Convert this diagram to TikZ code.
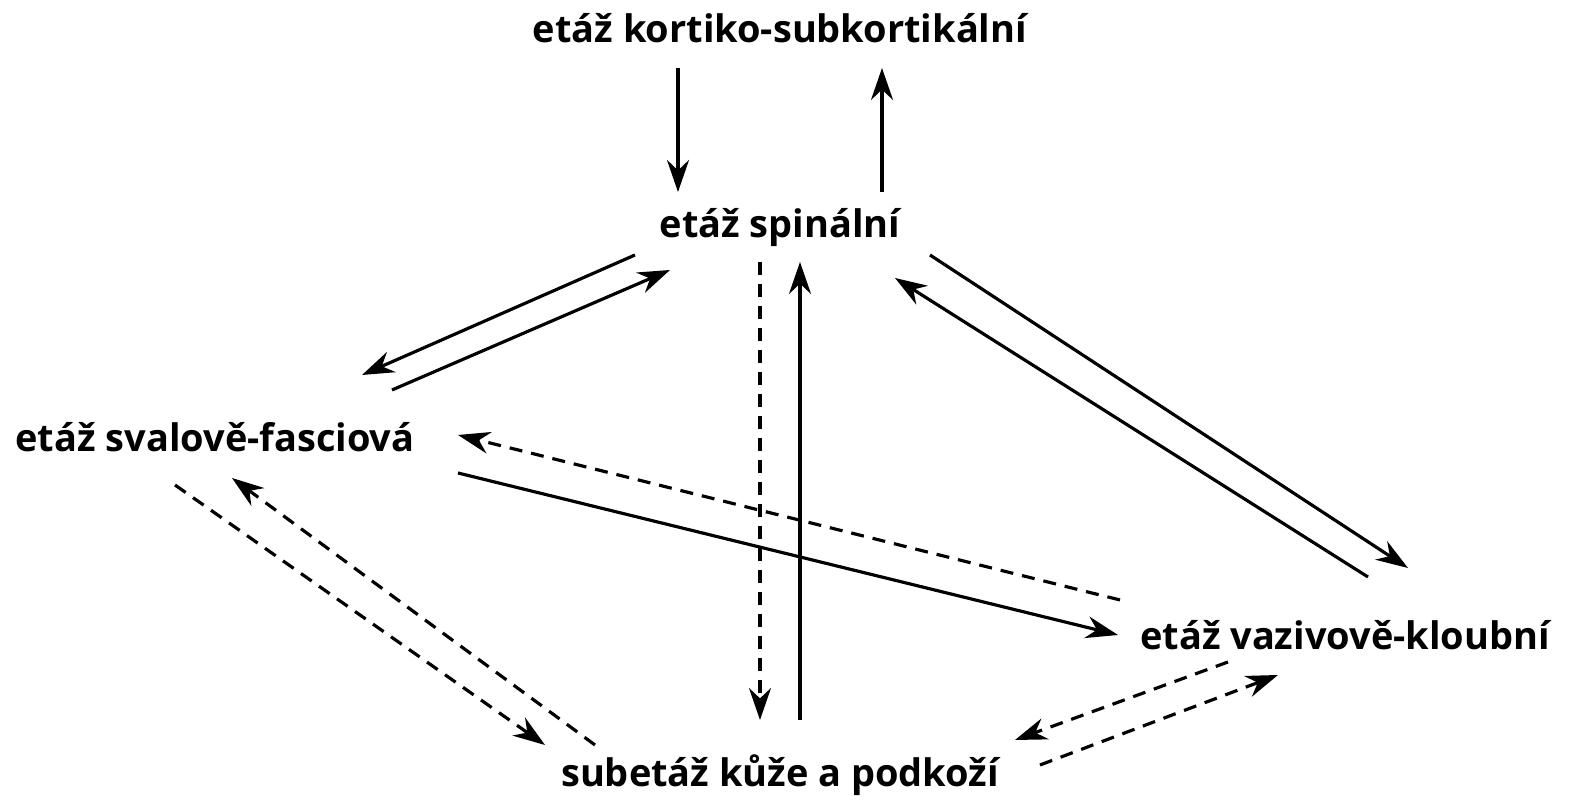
\documentclass[tikz,border=0pt]{standalone}
\usepackage{fontspec}
\setmainfont{Open Sans}
\usetikzlibrary{arrows.meta}

\tikzset{
  level/.style={font=\fontsize{10.8}{13}\selectfont\bfseries, inner sep=0pt},
  link/.style={line width=0.9pt, -{Stealth[length=3.2mm,width=2.2mm]}},
  dlink/.style={link, dash pattern=on 1.3mm off 0.9mm}
}

\begin{document}
\begin{tikzpicture}
        \useasboundingbox (0,0) rectangle (15.69,8);
        \node[level] (top) at (7.8,7.72) {etáž kortiko-subkortikální};
        \node[level] (spin) at (7.8,5.72) {etáž spinální};
        \node[level] (sval) at (2.15,3.63) {etáž svalově-fasciová};
        \node[level] (vaz) at (13.45,1.65) {etáž vazivově-kloubní};
        \node[level] (kuze) at (7.8,0.25) {subetáž kůže a podkoží};

        % top <-> spinal
        \draw[link] (6.78,7.32) -- (6.78,6.08);
        \draw[link] (8.82,6.08) -- (8.82,7.32);

        % spinal <-> svalove
        \draw[link] (6.35,5.45) -- (3.62,4.25);
        \draw[link] (3.92,4.10) -- (6.70,5.30);

        % spinal <-> kuze
        \draw[dlink] (7.60,5.38) -- (7.60,0.80);
        \draw[link] (8.00,0.80) -- (8.00,5.38);

        % spinal <-> vazivove
        \draw[link] (9.30,5.45) -- (14.08,2.32);
        \draw[link] (13.68,2.23) -- (8.95,5.22);

        % svalove <-> vazivove
        \draw[dlink] (11.20,2.00) -- (4.58,3.65);
        \draw[link] (4.58,3.27) -- (11.18,1.65);

        % svalove <-> kuze
        \draw[dlink] (1.75,3.15) -- (5.45,0.55);
        \draw[dlink] (5.95,0.55) -- (2.32,3.22);

        % vazivove <-> kuze
        \draw[dlink] (12.28,1.38) -- (10.15,0.60);
        \draw[dlink] (10.40,0.35) -- (12.78,1.25);
\end{tikzpicture}
\end{document}
